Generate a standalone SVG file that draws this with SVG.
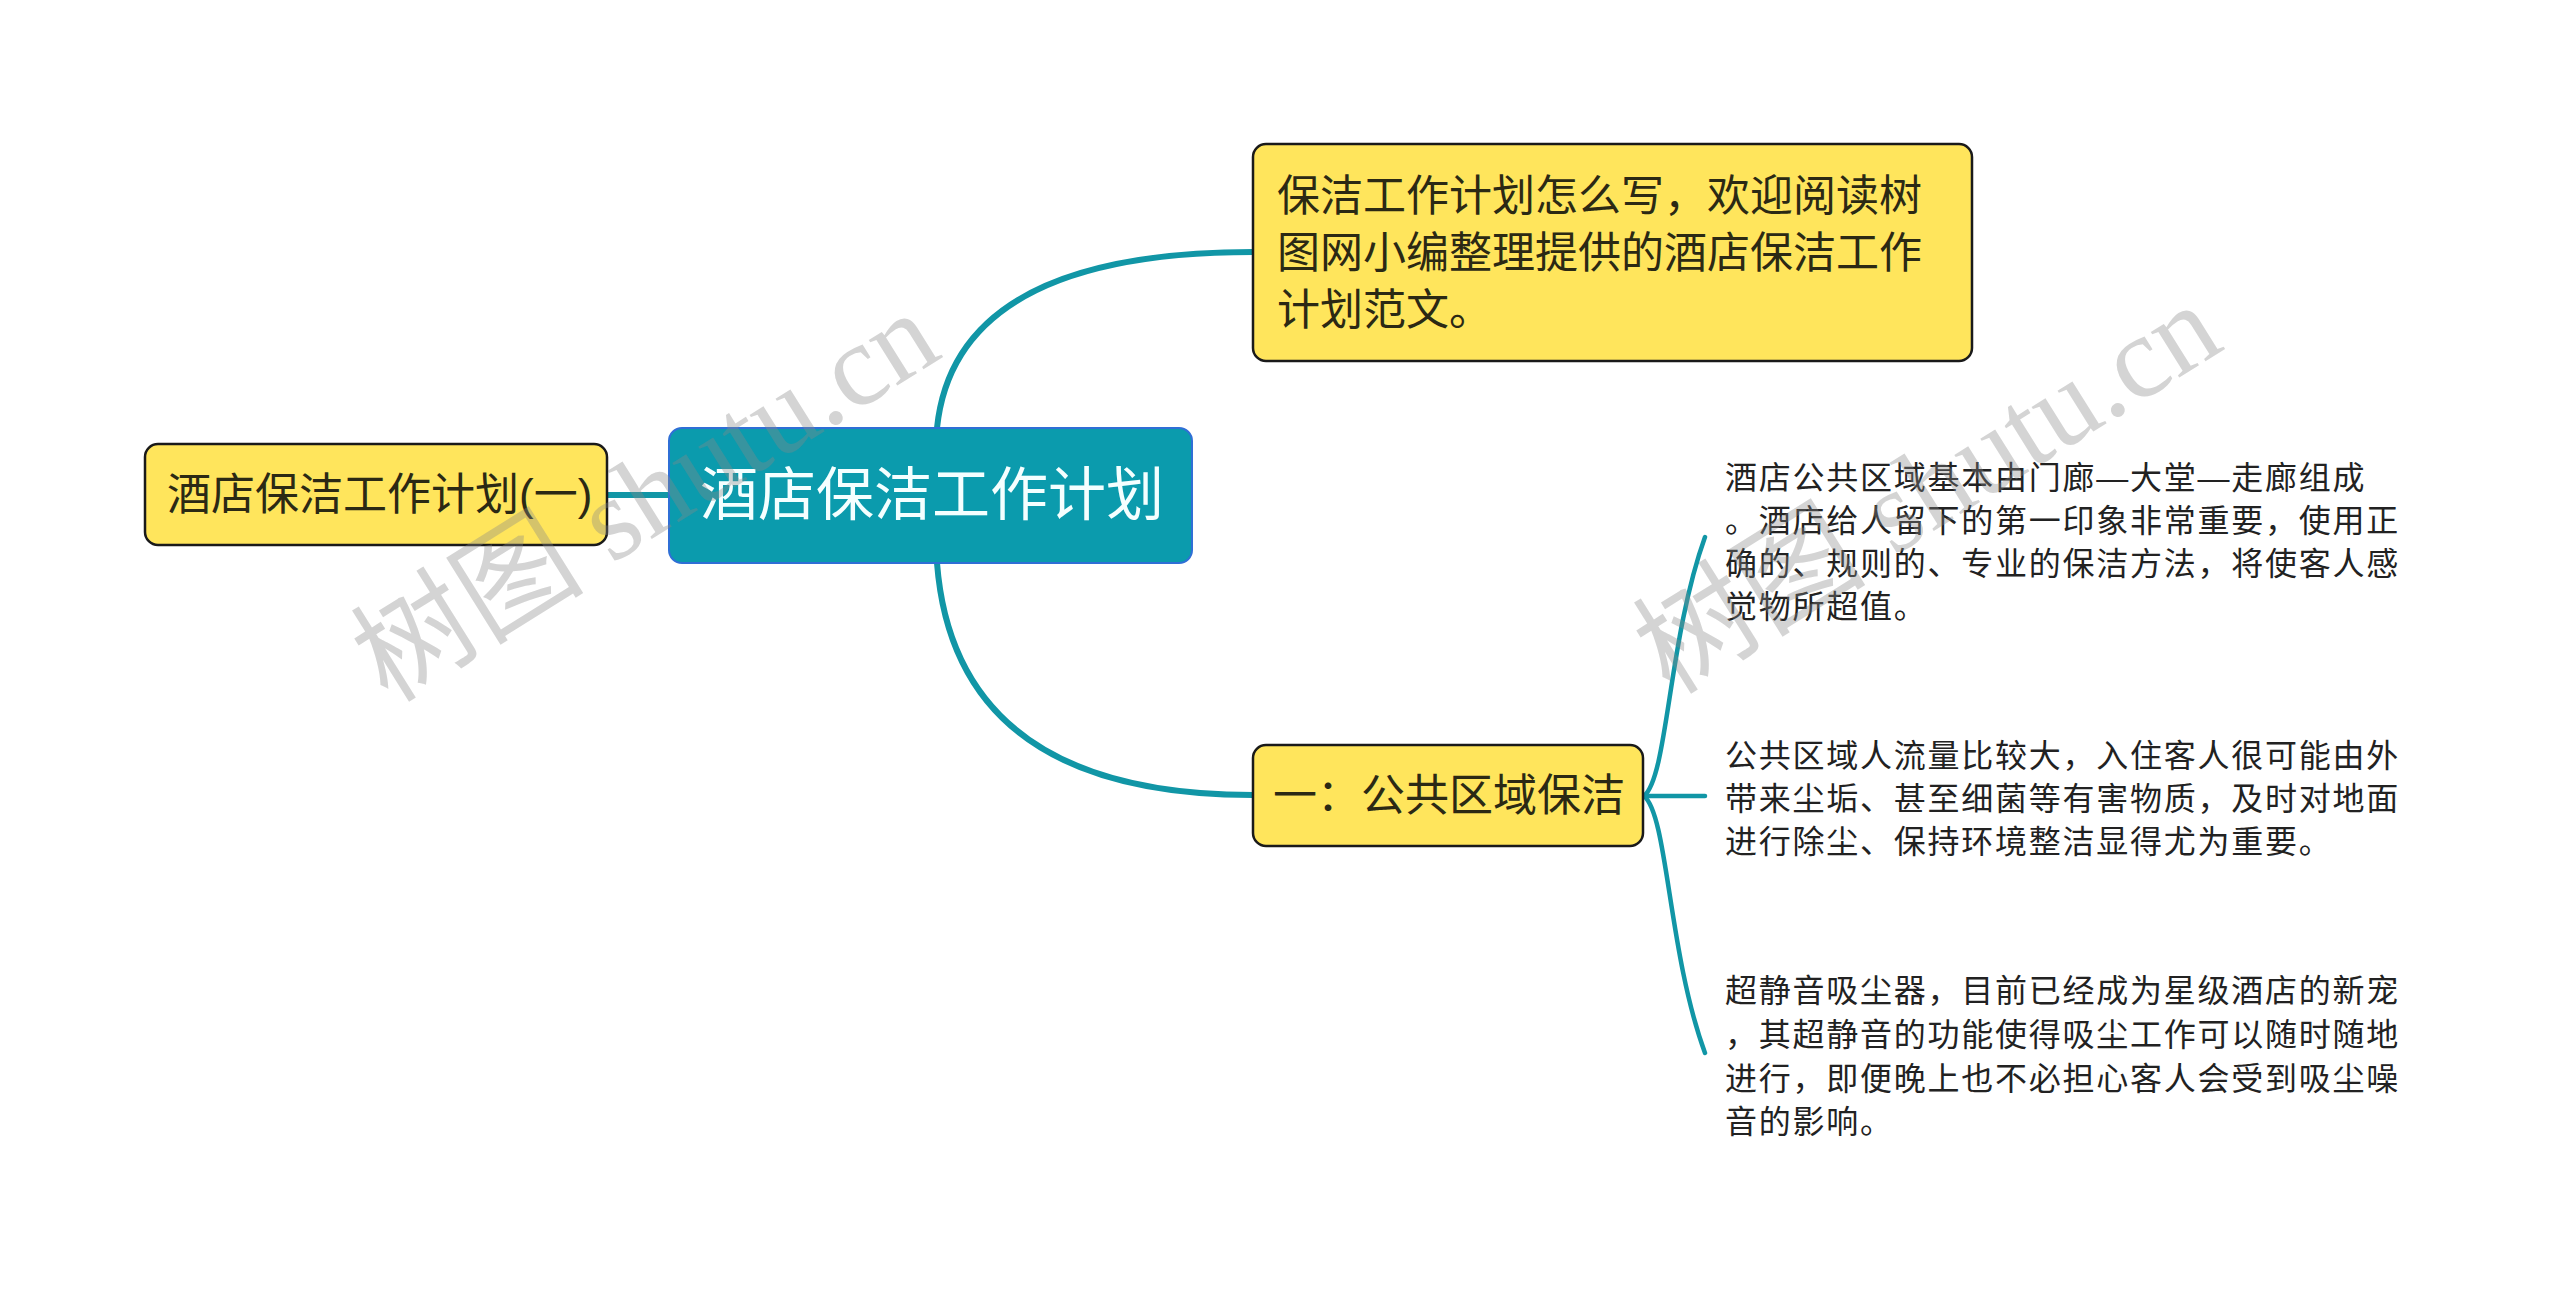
<svg xmlns="http://www.w3.org/2000/svg" width="2560" height="1301" viewBox="0 0 2560 1301">
<style>
.bg{fill:#ffffff}
.yel{fill:#ffe55c;stroke:#1a1a1a;stroke-width:2.5}
.main{fill:#0b9bad;stroke:#2f6fd6;stroke-width:2}
.t{font-family:"Liberation Sans","Noto Sans CJK SC",sans-serif;fill:#2b2914}
.tw{font-family:"Liberation Sans","Noto Sans CJK SC",sans-serif;fill:#f4ffff}
.tb{font-family:"Liberation Sans","Noto Sans CJK SC",sans-serif;fill:#222222;font-size:32px;letter-spacing:1.75px}
.c{fill:none;stroke:#1196a6;stroke-width:6;stroke-linecap:round}
.cs{fill:none;stroke:#1196a6;stroke-width:4.5;stroke-linecap:round}
.wm{font-family:"Liberation Serif","Noto Sans CJK SC",serif;font-size:117px;fill:#888888;fill-opacity:0.36}
</style>
<rect class="bg" x="0" y="0" width="2560" height="1301"/>
<g id="connectors">
<path class="c" d="M607,495 L669,495"/>
<path class="c" d="M937,428 Q955,252 1253,252"/>
<path class="c" d="M937,563 Q955,795 1253,795"/>
<path class="cs" d="M1644,796 C1668,776 1668,640 1705,537"/>
<path class="cs" d="M1644,796 L1705,796"/>
<path class="cs" d="M1644,796 C1668,816 1668,952 1705,1053"/>
</g>
<g id="node-left">
<rect class="yel" x="145" y="444" width="462" height="101" rx="13"/>
<text class="t" x="167" y="510" font-size="44">酒店保洁工作计划(一)</text>
</g>
<g id="node-root">
<rect class="main" x="669" y="428" width="523" height="135" rx="13"/>
<text class="tw" x="700" y="515" font-size="58">酒店保洁工作计划</text>
</g>
<g id="node-intro">
<rect class="yel" x="1253" y="144" width="719" height="217" rx="13"/>
<text class="t" font-size="43"><tspan x="1277" y="211">保洁工作计划怎么写，欢迎阅读树</tspan><tspan x="1277" y="268">图网小编整理提供的酒店保洁工作</tspan><tspan x="1277" y="325">计划范文。</tspan></text>
</g>
<g id="node-public">
<rect class="yel" x="1253" y="745" width="390" height="101" rx="13"/>
<text class="t" x="1273" y="811" font-size="44">一：公共区域保洁</text>
</g>
<g id="leaf-1">
<text class="tb"><tspan x="1725" y="489">酒店公共区域基本由门廊—大堂—走廊组成</tspan><tspan x="1725" y="532">。酒店给人留下的第一印象非常重要，使用正</tspan><tspan x="1725" y="575">确的、规则的、专业的保洁方法，将使客人感</tspan><tspan x="1725" y="618">觉物所超值。</tspan></text>
</g>
<g id="leaf-2">
<text class="tb"><tspan x="1725" y="767">公共区域人流量比较大，入住客人很可能由外</tspan><tspan x="1725" y="810">带来尘垢、甚至细菌等有害物质，及时对地面</tspan><tspan x="1725" y="853">进行除尘、保持环境整洁显得尤为重要。</tspan></text>
</g>
<g id="leaf-3">
<text class="tb"><tspan x="1725" y="1002">超静音吸尘器，目前已经成为星级酒店的新宠</tspan><tspan x="1725" y="1046">，其超静音的功能使得吸尘工作可以随时随地</tspan><tspan x="1725" y="1090">进行，即便晚上也不必担心客人会受到吸尘噪</tspan><tspan x="1725" y="1133">音的影响。</tspan></text>
</g>
<g id="watermarks">
<text class="wm" transform="translate(388,704) rotate(-32)">树图 shutu.cn</text>
<text class="wm" transform="translate(1670,696) rotate(-32)">树图 shutu.cn</text>
</g>
</svg>
